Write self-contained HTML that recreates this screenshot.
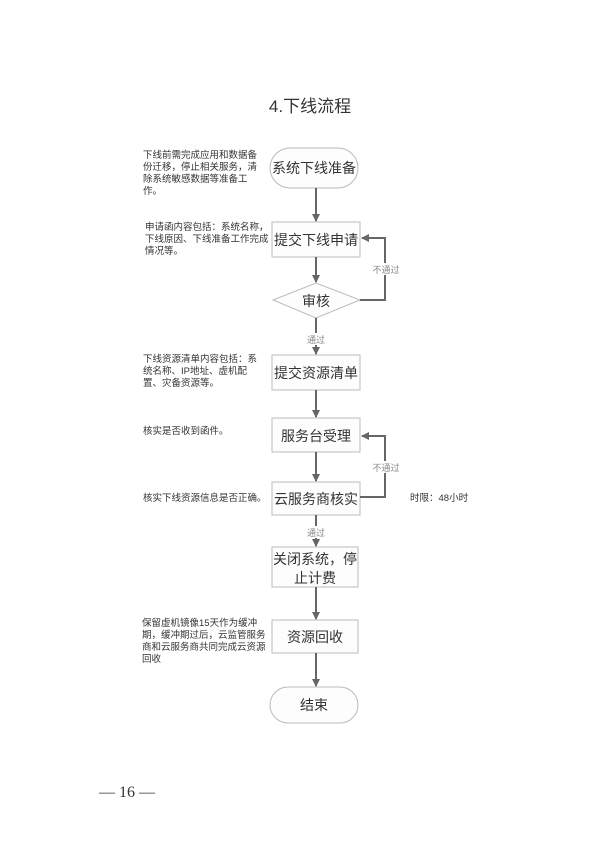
<!DOCTYPE html>
<html><head><meta charset="utf-8"><style>
html,body{margin:0;padding:0;background:#fff;}
svg{display:block;}
text{font-family:"Liberation Sans","Noto Sans CJK SC",sans-serif;}
.s{font-family:"Liberation Serif","Noto Serif CJK SC",serif;}
</style></head><body>
<svg width="613" height="854" viewBox="0 0 613 854" xmlns="http://www.w3.org/2000/svg">
<defs><marker id="a" markerWidth="8" markerHeight="8" refX="7" refY="4" orient="auto" markerUnits="userSpaceOnUse"><path d="M0,0 L8,4 L0,8 Z" fill="#666"/></marker></defs>
<rect width="613" height="854" fill="#fff"/>
<text x="310" y="112" font-size="17" fill="#333" text-anchor="middle">4.下线流程</text>
<g fill="#fdfdfd" stroke="#bbb" stroke-width="1">
<rect x="270" y="148" width="88" height="40" rx="20"/>
<rect x="272" y="222" width="88" height="35"/>
<polygon points="273,300 316,283 360,300 316,318"/>
<rect x="272" y="355" width="88" height="35"/>
<rect x="272" y="418" width="88" height="34"/>
<rect x="272" y="482" width="88" height="33"/>
<rect x="272" y="547" width="86" height="40"/>
<rect x="272" y="620" width="86" height="33"/>
<rect x="270" y="687" width="88" height="36" rx="18"/>
</g>
<g stroke="#666" stroke-width="2" fill="none">
<line x1="316" y1="188" x2="316" y2="221" marker-end="url(#a)"/>
<line x1="316" y1="257" x2="316" y2="282" marker-end="url(#a)"/>
<line x1="316" y1="318" x2="316" y2="354" marker-end="url(#a)"/>
<line x1="316" y1="390" x2="316" y2="417" marker-end="url(#a)"/>
<line x1="316" y1="452" x2="316" y2="481" marker-end="url(#a)"/>
<line x1="316" y1="515" x2="316" y2="546" marker-end="url(#a)"/>
<line x1="316" y1="587" x2="316" y2="619" marker-end="url(#a)"/>
<line x1="316" y1="653" x2="316" y2="686" marker-end="url(#a)"/>
<polyline points="360,300 385,300 385,238 362,238" marker-end="url(#a)"/>
<polyline points="360,497 385,497 385,436 362,436" marker-end="url(#a)"/>
</g>
<g fill="#fff">
<rect x="370" y="263" width="32" height="12"/>
<rect x="303" y="333" width="26" height="12"/>
<rect x="370" y="461" width="32" height="12"/>
<rect x="303" y="526" width="26" height="12"/>
</g>
<g font-size="14" fill="#333" text-anchor="middle">
<text x="314" y="173">系统下线准备</text>
<text x="316" y="245">提交下线申请</text>
<text x="316" y="306">审核</text>
<text x="316" y="378">提交资源清单</text>
<text x="316" y="441">服务台受理</text>
<text x="316" y="504">云服务商核实</text>
<text x="315" y="564">关闭系统，停</text>
<text x="315" y="583">止计费</text>
<text x="315" y="642">资源回收</text>
<text x="314" y="710">结束</text>
</g>
<g font-size="9" fill="#888" text-anchor="middle">
<text x="386" y="273">不通过</text>
<text x="316" y="343">通过</text>
<text x="386" y="471">不通过</text>
<text x="316" y="536">通过</text>
</g>
<g font-size="9.5" fill="#333">
<text x="143" y="158">下线前需完成应用和数据备</text>
<text x="143" y="170">份迁移，停止相关服务，清</text>
<text x="143" y="182">除系统敏感数据等准备工</text>
<text x="143" y="194">作。</text>
<text x="145" y="230">申请函内容包括：系统名称，</text>
<text x="145" y="242">下线原因、下线准备工作完成</text>
<text x="145" y="254">情况等。</text>
<text x="143" y="362">下线资源清单内容包括：系</text>
<text x="143" y="374">统名称、IP地址、虚机配</text>
<text x="143" y="386">置、灾备资源等。</text>
<text x="143" y="434">核实是否收到函件。</text>
<text x="143" y="501">核实下线资源信息是否正确。</text>
<text x="410" y="501">时限：48小时</text>
<text x="142" y="626">保留虚机镜像15天作为缓冲</text>
<text x="142" y="638">期，缓冲期过后，云监管服务</text>
<text x="142" y="650">商和云服务商共同完成云资源</text>
<text x="142" y="662">回收</text>
</g>
<text x="127" y="797" font-size="16" fill="#333" text-anchor="middle" class="s">— 16 —</text>
</svg>
</body></html>
